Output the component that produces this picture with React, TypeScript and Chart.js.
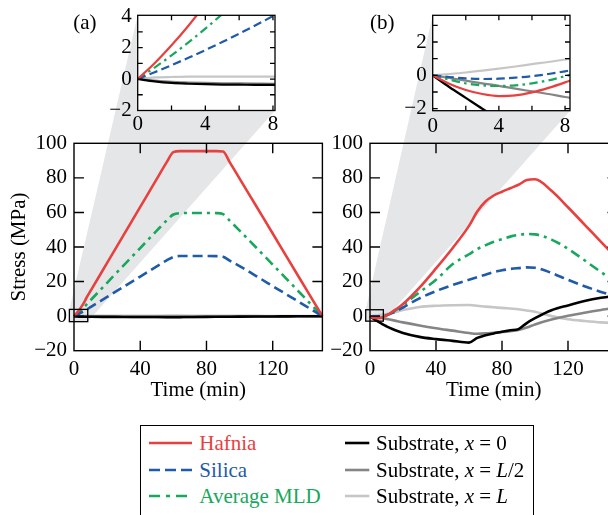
import React, { useEffect, useRef } from 'react';
import { Chart, registerables } from 'chart.js';

Chart.register(...registerables);

const SERIF = '"Liberation Serif", "Times New Roman", Times, serif';
const FONT_SIZE = 21;

// ---------------- data: panel (a) ----------------
const timeA = [0, 1, 2, 3, 4, 5, 6, 7, 8, 10, 20, 30, 40, 50, 56, 60, 64, 70, 80, 86, 90, 94, 100, 110, 120, 130, 140, 150];
const hafniaA = [0, 1.0, 2.14, 3.39, 4.76, 6.25, 7.86, 9.59, 11.4, 14.6, 30.8, 47, 63.2, 79.4, 89.1, 94.9, 95.5, 95.5, 95.5, 95.5, 95.3, 89.1, 79.6, 63.7, 47.8, 31.8, 15.9, 0];
const silicaA = [0, 0.43, 0.88, 1.35, 1.84, 2.35, 2.88, 3.43, 4.0, 5.2, 11.1, 17, 22.9, 28.8, 32.3, 34.2, 34.8, 34.8, 34.8, 34.7, 34.3, 32.1, 29, 23.2, 17.4, 11.6, 5.8, 0];
const mldA = [0, 0.73, 1.5, 2.33, 3.2, 4.13, 5.1, 6.13, 7.2, 9.2, 19.3, 29.4, 39.4, 49.5, 55.4, 58.8, 59.6, 59.7, 59.7, 59.6, 59, 55.3, 49.5, 39.7, 29.8, 19.9, 9.9, 0];
const sub0A = [0, -0.15, -0.25, -0.3, -0.33, -0.35, -0.36, -0.37, -0.37, -0.38, -0.42, -0.46, -0.5, -0.54, -0.56, -0.58, -0.55, -0.5, -0.42, -0.38, -0.35, -0.33, -0.3, -0.25, -0.2, -0.13, -0.07, 0];
const subHalfA = [0, -0.1, -0.18, -0.22, -0.25, -0.27, -0.28, -0.29, -0.3, -0.31, -0.35, -0.38, -0.42, -0.45, -0.47, -0.48, -0.46, -0.42, -0.36, -0.32, -0.3, -0.28, -0.25, -0.21, -0.17, -0.11, -0.06, 0];
const subLA = [0, 0.1, 0.13, 0.15, 0.15, 0.15, 0.15, 0.15, 0.15, 0.16, 0.18, 0.2, 0.22, 0.25, 0.27, 0.28, 0.27, 0.25, 0.22, 0.2, 0.19, 0.18, 0.16, 0.13, 0.1, 0.07, 0.03, 0];

// ---------------- data: panel (b) ----------------
const timeB = [0, 1, 2, 3, 4, 5, 6, 7, 8, 9, 10, 12, 15, 20, 30, 40, 50, 60, 65, 70, 75, 80, 85, 90, 95, 100, 110, 120, 130, 140, 150];
const hafniaB = [0, -0.5, -0.88, -1.12, -1.24, -1.2, -1.02, -0.75, -0.42, -0.05, 0.4, 1.5, 3.5, 7, 16.5, 27.6, 39.3, 52.2, 60.5, 66.3, 69.8, 72, 74, 76, 78.7, 79.2, 72.5, 63, 53, 43, 33];
const silicaB = [0, -0.1, -0.18, -0.22, -0.2, -0.14, -0.05, 0.08, 0.24, 0.42, 0.65, 1.2, 2.4, 5, 10.3, 14.5, 18, 21, 22.5, 24, 25.5, 26.5, 27.3, 27.8, 28.2, 28, 25, 21, 17.3, 14, 11];
const mldB = [0, -0.25, -0.48, -0.6, -0.64, -0.6, -0.48, -0.3, -0.05, 0.2, 0.5, 1.3, 3, 6.5, 13.8, 21, 30, 35.8, 38.8, 41, 43, 44.5, 46, 47, 47.5, 47.3, 44.3, 39, 32.3, 25.5, 19];
const sub0B = [0, -0.7, -1.35, -2, -2.6, -3.2, -3.8, -4.3, -4.9, -5.4, -5.9, -6.8, -8, -9.7, -12, -13.3, -14.3, -15.3, -12.6, -11, -10, -9, -8.2, -7.5, -4, -1.2, 3.4, 6.2, 8.7, 10.6, 12];
const subHalfB = [0, -0.16, -0.32, -0.48, -0.63, -0.8, -0.96, -1.12, -1.3, -1.45, -1.6, -2.0, -2.6, -3.6, -5.4, -7, -8.4, -9.8, -10.2, -10, -9.6, -9.2, -8.7, -8, -6.6, -4.8, -2, 0.2, 2, 3.6, 5];
const subLB = [0, 0.08, 0.17, 0.28, 0.4, 0.53, 0.67, 0.8, 0.95, 1.08, 1.2, 1.6, 2.3, 3.5, 5.3, 6, 6.3, 6.4, 6, 5.5, 5.1, 4.8, 4.4, 4, 3.3, 2.5, 0, -1.8, -2.8, -3.6, -4];

// ---------------- ticks ----------------
const mainXTicks = [0, 40, 80, 120];
const mainYTicks = [-20, 0, 20, 40, 60, 80, 100];
const insetXTicks = [0, 2, 4, 6, 8];
const insetXLabels = [0, 4, 8];
const insetAYTicks = [-2, -1, 0, 1, 2, 3, 4];
const insetBYTicks = [-2, -1, 0, 1, 2, 3];
const insetYLabels = [-2, 0, 2, 4];

const seriesNames = ['Hafnia', 'Silica', 'Average MLD', 'Substrate, x = 0', 'Substrate, x = L/2', 'Substrate, x = L'];
const substratePositions = ['0', 'L/2', 'L'];

// ---------------- styles ----------------
const STYLE = [
  { color: '#e8403f', dash: [] as number[] },
  { color: '#1f5ba8', dash: [10, 5] },
  { color: '#17a85b', dash: [10, 5, 3, 5] },
  { color: '#000000', dash: [] as number[] },
  { color: '#858585', dash: [] as number[] },
  { color: '#c6c6c6', dash: [] as number[] },
];
const LINE_W = 2.6;
const ZOOM_FILL = '#e5e6e8';

type Box = { left: number; top: number; right: number; bottom: number };
type Panel = {
  cv: { x: number; y: number; w: number; h: number };
  area: Box;
  time: number[];
  values: number[][];
  xRange: [number, number];
  yRange: [number, number];
  xTicks: number[];
  yTicks: number[];
  xLabels: number[];
  yLabels: number[];
  tickLen: number;
  frameW: number;
  xPad: number;
  yPad: number;
  lineScale: number;
  clip: number;
  xTitle?: string;
  yTitle?: string;
  white?: boolean;
  zoom?: { rect: [number, number, number, number]; inset: Box };
};

const MAIN_A: Box = { left: 74, top: 143.3, right: 322.4, bottom: 350.7 };
const MAIN_B: Box = { left: 370, top: 143.3, right: 617.5, bottom: 350.7 };
const INSET_A: Box = { left: 137.7, top: 15.3, right: 275, bottom: 110.5 };
const INSET_B: Box = { left: 432.7, top: 15.3, right: 570, bottom: 110.7 };

const fmt = (v: number) => (v < 0 ? '\u2212' + Math.abs(v) : String(v));

const PANELS: Panel[] = [
  {
    cv: { x: 0, y: 0, w: 330, h: 410 }, area: MAIN_A, time: timeA,
    values: [hafniaA, silicaA, mldA, sub0A, subHalfA, subLA],
    xRange: [0, 150], yRange: [-20, 100], xTicks: mainXTicks, yTicks: mainYTicks,
    xLabels: mainXTicks, yLabels: mainYTicks, tickLen: 10, frameW: 1.4, xPad: 6, yPad: 7,
    lineScale: 1, clip: 2, xTitle: 'Time (min)', yTitle: 'Stress (MPa)',
    zoom: { rect: [-2.8, 8.3, -3.2, 3.9], inset: INSET_A },
  },
  {
    cv: { x: 320, y: 0, w: 320, h: 410 }, area: MAIN_B, time: timeB,
    values: [hafniaB, silicaB, mldB, sub0B, subHalfB, subLB],
    xRange: [0, 150], yRange: [-20, 100], xTicks: mainXTicks, yTicks: mainYTicks,
    xLabels: mainXTicks, yLabels: mainYTicks, tickLen: 10, frameW: 1.4, xPad: 6, yPad: 7,
    lineScale: 1, clip: 2, xTitle: 'Time (min)',
    zoom: { rect: [-2.6, 8.1, -2.9, 3.7], inset: INSET_B },
  },
  {
    cv: { x: 95, y: 0, w: 195, h: 140 }, area: INSET_A, time: timeA,
    values: [hafniaA, silicaA, mldA, sub0A, subHalfA, subLA],
    xRange: [0, 8.12], yRange: [-2, 4.05], xTicks: insetXTicks, yTicks: insetAYTicks,
    xLabels: insetXLabels, yLabels: insetYLabels, tickLen: 5, frameW: 1.3, xPad: 1.5, yPad: 6,
    lineScale: 0.85, clip: 0, white: true,
  },
  {
    cv: { x: 390, y: 0, w: 195, h: 140 }, area: INSET_B, time: timeB,
    values: [hafniaB, silicaB, mldB, sub0B, subHalfB, subLB],
    xRange: [0, 8.3], yRange: [-2.12, 3.6], xTicks: insetXTicks, yTicks: insetBYTicks,
    xLabels: insetXLabels, yLabels: insetYLabels, tickLen: 5, frameW: 1.3, xPad: 3.4, yPad: 6,
    lineScale: 0.85, clip: 0, white: true,
  },
];

function framePlugin(p: Panel) {
  return {
    id: 'frame',
    beforeDraw(chart: any) {
      const ctx = chart.ctx;
      const a = chart.chartArea;
      ctx.save();
      if (p.zoom) {
        const xs = chart.scales.x;
        const ys = chart.scales.y;
        const [x0, x1, y0, y1] = p.zoom.rect;
        const L = xs.getPixelForValue(x0);
        const R = xs.getPixelForValue(x1);
        const T = ys.getPixelForValue(y1);
        const B = ys.getPixelForValue(y0);
        const ins = p.zoom.inset;
        const ox = p.cv.x;
        const oy = p.cv.y;
        ctx.fillStyle = ZOOM_FILL;
        ctx.beginPath();
        ctx.moveTo(L, T);
        ctx.lineTo(ins.left - ox, ins.top - oy);
        ctx.lineTo(ins.right - ox, ins.top - oy);
        ctx.lineTo(ins.right - ox, ins.bottom - oy);
        ctx.lineTo(R, B);
        ctx.lineTo(L, B);
        ctx.closePath();
        ctx.fill();
      }
      if (p.white) {
        ctx.fillStyle = '#ffffff';
        ctx.fillRect(a.left, a.top, a.right - a.left, a.bottom - a.top);
      }
      ctx.restore();
    },
    afterDatasetsDraw(chart: any) {
      const ctx = chart.ctx;
      const a = chart.chartArea;
      const xs = chart.scales.x;
      const ys = chart.scales.y;
      ctx.save();
      ctx.strokeStyle = '#000';
      ctx.lineWidth = p.frameW;
      ctx.beginPath();
      for (const v of p.xTicks) {
        const px = xs.getPixelForValue(v);
        if (px < a.left + 1 || px > a.right - 1) continue;
        ctx.moveTo(px, a.bottom);
        ctx.lineTo(px, a.bottom - p.tickLen);
        ctx.moveTo(px, a.top);
        ctx.lineTo(px, a.top + p.tickLen);
      }
      for (const v of p.yTicks) {
        const py = ys.getPixelForValue(v);
        if (py < a.top + 1 || py > a.bottom - 1) continue;
        ctx.moveTo(a.left, py);
        ctx.lineTo(a.left + p.tickLen, py);
        ctx.moveTo(a.right, py);
        ctx.lineTo(a.right - p.tickLen, py);
      }
      ctx.stroke();
      ctx.strokeRect(a.left, a.top, a.right - a.left, a.bottom - a.top);
      if (p.zoom) {
        const [x0, x1, y0, y1] = p.zoom.rect;
        const L = xs.getPixelForValue(x0);
        const R = xs.getPixelForValue(x1);
        const T = ys.getPixelForValue(y1);
        const B = ys.getPixelForValue(y0);
        ctx.lineWidth = 1.3;
        ctx.strokeRect(L, T, R - L, B - T);
      }
      ctx.restore();
    },
  };
}

function buildConfig(p: Panel): any {
  const yW = p.area.left - p.cv.x;
  const xH = p.cv.y + p.cv.h - p.area.bottom;
  const padding = { left: 0, top: p.area.top - p.cv.y, right: p.cv.x + p.cv.w - p.area.right, bottom: 0 };
  const font = { family: SERIF, size: FONT_SIZE };
  return {
    type: 'line',
    data: {
      datasets: p.values.map((vals, i) => ({
        label: seriesNames[i],
        data: p.time.map((t, j) => ({ x: t, y: vals[j] })),
        borderColor: STYLE[i].color,
        borderDash: STYLE[i].dash.map((d) => d * p.lineScale),
        borderWidth: LINE_W * p.lineScale,
        pointRadius: 0,
        fill: false,
        cubicInterpolationMode: 'monotone',
        clip: p.clip,
      })),
    },
    options: {
      responsive: false,
      maintainAspectRatio: false,
      animation: false,
      devicePixelRatio: 1,
      events: [],
      layout: { padding },
      plugins: { legend: { display: false }, tooltip: { enabled: false }, title: { display: false } },
      scales: {
        x: {
          type: 'linear', position: 'bottom', min: p.xRange[0], max: p.xRange[1],
          grid: { display: false, drawTicks: false }, border: { display: false },
          afterBuildTicks: (s: any) => { s.ticks = p.xTicks.map((value) => ({ value })); },
          afterFit: (s: any) => { s.height = xH; s.paddingLeft = 0; s.paddingRight = 0; },
          ticks: {
            autoSkip: false, maxRotation: 0, minRotation: 0, padding: p.xPad, color: '#000', font,
            callback: (v: any) => (p.xLabels.includes(v) ? fmt(v) : ''),
          },
          title: p.xTitle
            ? { display: true, text: p.xTitle, color: '#000', font, padding: { top: 0, bottom: 6.7 } }
            : { display: false },
        },
        y: {
          type: 'linear', position: 'left', min: p.yRange[0], max: p.yRange[1],
          grid: { display: false, drawTicks: false }, border: { display: false },
          afterBuildTicks: (s: any) => { s.ticks = p.yTicks.map((value) => ({ value })); },
          afterFit: (s: any) => { s.width = yW; s.paddingTop = 0; s.paddingBottom = 0; },
          ticks: {
            autoSkip: false, padding: p.yPad, color: '#000', font,
            callback: (v: any) => (p.yLabels.includes(v) ? fmt(v) : ''),
          },
          title: p.yTitle
            ? { display: true, text: p.yTitle, color: '#000', font, padding: { top: 7, bottom: 0 } }
            : { display: false },
        },
      },
    },
    plugins: [framePlugin(p)],
  };
}

const LEGEND_LEFT = [0, 1, 2];
const LEGEND_RIGHT = [3, 4, 5];
const LEGEND_BASELINES = [450, 476.6, 503.2];
const LEGEND_TEXT_COLORS = ['#e8403f', '#1f5ba8', '#17a85b'];

function Sample({ x, y, len, color, dash }: { x: number; y: number; len: number; color: string; dash: number[] }) {
  return (
    <svg style={{ position: 'absolute', left: x, top: y - 3, width: len, height: 6, overflow: 'visible' }} width={len} height={6}>
      <line x1={0} y1={3} x2={len} y2={3} stroke={color} strokeWidth={LINE_W} strokeDasharray={dash.length ? dash.join(' ') : undefined} />
    </svg>
  );
}

function renderPos(pos: string) {
  return pos.split('').map((ch, i) => (ch === 'L' ? <i key={i}>L</i> : <span key={i}>{ch}</span>));
}

export default function App() {
  const r0 = useRef<HTMLCanvasElement>(null);
  const r1 = useRef<HTMLCanvasElement>(null);
  const r2 = useRef<HTMLCanvasElement>(null);
  const r3 = useRef<HTMLCanvasElement>(null);
  const refs = [r0, r1, r2, r3];

  useEffect(() => {
    const charts = PANELS.map((p, i) => new Chart(refs[i].current as HTMLCanvasElement, buildConfig(p)));
    return () => charts.forEach((c) => c.destroy());
  }, []);

  const textStyle = (left: number, baseline: number, color: string): React.CSSProperties => ({
    position: 'absolute', left, top: baseline - 19.1, fontFamily: SERIF, fontSize: FONT_SIZE,
    lineHeight: '24px', color, whiteSpace: 'nowrap',
  });

  return (
    <div style={{ position: 'fixed', left: 0, top: 0, width: 608, height: 515, overflow: 'hidden', background: '#fff' }}>
      {PANELS.map((p, i) => (
        <canvas
          key={i}
          ref={refs[i]}
          width={p.cv.w}
          height={p.cv.h}
          style={{ position: 'absolute', left: p.cv.x, top: p.cv.y, width: p.cv.w, height: p.cv.h }}
        />
      ))}
      <div style={textStyle(73.3, 29.5, '#000')}>(a)</div>
      <div style={textStyle(370, 29.5, '#000')}>(b)</div>

      <div style={{ position: 'absolute', left: 139.5, top: 425, width: 394.5, height: 130, border: '1.3px solid #000', boxSizing: 'border-box' }} />
      {LEGEND_LEFT.map((si, r) => (
        <React.Fragment key={'l' + si}>
          <Sample x={149.3} y={LEGEND_BASELINES[r] - 7} len={43} color={STYLE[si].color}
            dash={si === 1 ? [11, 5] : si === 2 ? [11, 6, 4, 6] : []} />
          <div style={textStyle(199.3, LEGEND_BASELINES[r], LEGEND_TEXT_COLORS[r])}>{seriesNames[si]}</div>
        </React.Fragment>
      ))}
      {LEGEND_RIGHT.map((si, r) => (
        <React.Fragment key={'r' + si}>
          <Sample x={345} y={LEGEND_BASELINES[r] - 7} len={24.3} color={STYLE[si].color} dash={[]} />
          <div style={textStyle(376, LEGEND_BASELINES[r], '#000')}>
            Substrate, <i>x</i> = {renderPos(substratePositions[r])}
          </div>
        </React.Fragment>
      ))}
    </div>
  );
}
